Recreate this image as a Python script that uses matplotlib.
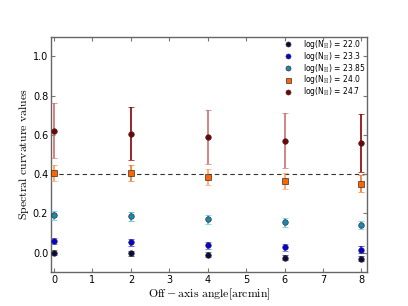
import matplotlib
matplotlib.use("Agg")
import matplotlib.pyplot as plt

plt.rcParams['mathtext.fontset'] = 'cm'

# off-axis angles (arcmin)
angle = [0, 2, 4, 6, 8]

# log(N_H) series: curvature values and errors
nh_labels = ["22.0", "23.3", "23.85", "24.0", "24.7"]
curv_220 = [0.000, -0.003, -0.010, -0.025, -0.030]
err_220 = [0.013, 0.013, 0.013, 0.013, 0.013]
curv_233 = [0.060, 0.052, 0.037, 0.027, 0.016]
err_233 = [0.016, 0.016, 0.016, 0.016, 0.016]
curv_2385 = [0.190, 0.186, 0.170, 0.155, 0.142]
err_2385 = [0.022, 0.022, 0.022, 0.022, 0.022]
curv_240 = [0.405, 0.405, 0.385, 0.365, 0.352]
err_240 = [0.042, 0.042, 0.042, 0.042, 0.042]
curv_247 = [0.622, 0.605, 0.590, 0.570, 0.560]
err_247 = [0.138, 0.135, 0.138, 0.140, 0.148]

series = [curv_220, curv_233, curv_2385, curv_240, curv_247]
errors = [err_220, err_233, err_2385, err_240, err_247]
colors = ['#0b0b3b', '#0000d8', '#1b8aaa', '#ff6400', '#7a0000']
markers = ['o', 'o', 'o', 's', 'o']
# the error bars switch between a light and a dark shade from point to point
ecolors = [
    ['#55556f', '#22224a', '#55556f', '#22224a', '#22224a'],
    ['#5050ff', '#3030ee', '#5050ff', '#5050ff', '#2020e0'],
    ['#5cc8ea', '#38b0d8', '#5cc8ea', '#5cc8ea', '#5cc8ea'],
    ['#ff9a50', '#f07820', '#ffa060', '#ffa060', '#f07820'],
    ['#cc7070', '#8a0000', '#cc7070', '#cc7070', '#8a0000'],
]

fig = plt.figure(figsize=(4.08, 3.06), dpi=100)
ax = fig.add_subplot(111)

ax.axhline(0.4, color='#333333', ls='--', lw=0.8, dashes=(4, 3), zorder=1)

for vals, errs, c, m, ec, lab in zip(series, errors, colors, markers, ecolors, nh_labels):
    for i in range(len(angle)):
        ax.errorbar(angle[i], vals[i], yerr=errs[i], fmt=m, color=c, ecolor=ec[i],
                    ms=4, mec='#333333', mew=0.5, elinewidth=1.2, capsize=2,
                    capthick=1, zorder=3)
    ax.plot([], [], m, color=c, ms=3.6, mec='#333333', mew=0.5,
            label=r'log(N$_{\rm H}$) = ' + lab)

ax.set_xlim(-0.08, 8.15)
ax.set_ylim(-0.1, 1.1)
ax.set_xticks(range(0, 9))
ax.set_yticks([0.0, 0.2, 0.4, 0.6, 0.8, 1.0])
ax.tick_params(direction='in', top=True, right=True, labelsize=7,
               length=3, color='#777777', pad=2)
for s in ax.spines.values():
    s.set_color('#666666')
    s.set_linewidth(1.0)

ax.set_xlabel(r'$\rm{Off-axis\ angle[arcmin]}$', fontsize=8.5, labelpad=1)
ax.set_ylabel(r'$\rm{Spectral\ curvature\ values}$', fontsize=8.5, labelpad=1)

ax.legend(loc='upper right', bbox_to_anchor=(1.0, 1.005), frameon=False,
          fontsize=5.5, numpoints=1, handletextpad=0.9, labelspacing=-0.15,
          borderaxespad=0, borderpad=0.3)

fig.savefig("out.png", dpi=100)
